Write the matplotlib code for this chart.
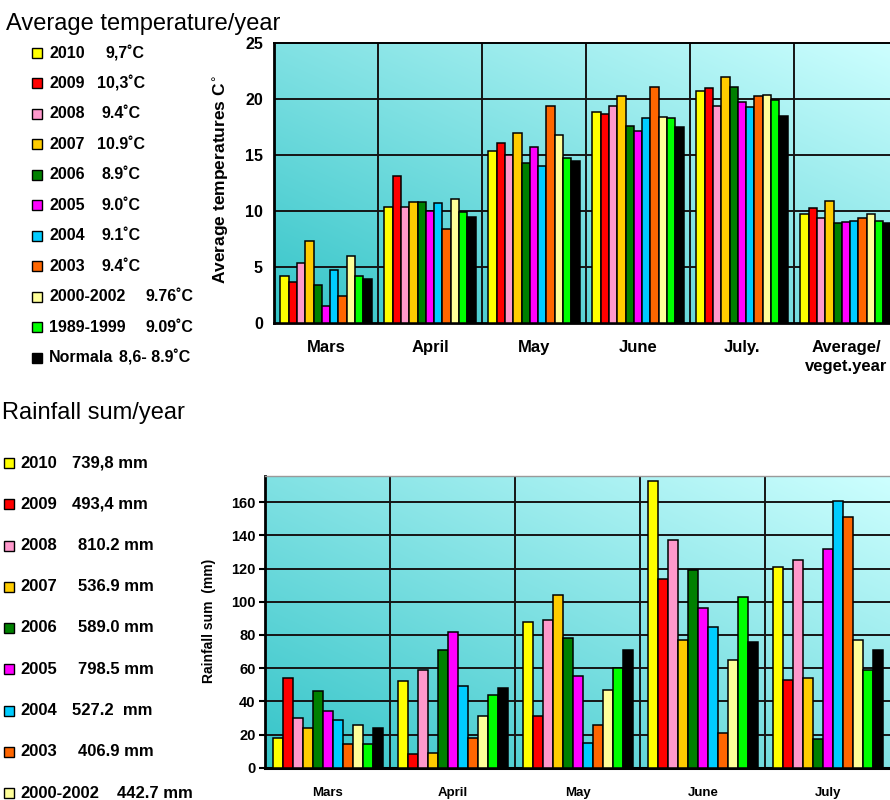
import numpy as np
import matplotlib
matplotlib.use("Agg")
import matplotlib.pyplot as plt
from matplotlib.patches import Rectangle

plt.rcParams['font.family'] = ['Liberation Sans', 'DejaVu Sans']

W, H = 890, 800

# ---------------- data ----------------
series_colors = ["#FFFF00", "#FF0000", "#FF99CC", "#FFCC00", "#008000", "#FF00FF",
                 "#00CCFF", "#FF6600", "#FFFF99", "#00FF00", "#000000"]

temp_categories = ["Mars", "April", "May", "June", "July.", "Average/\nveget.year"]
temp_2010 = [4.2, 10.4, 15.4, 18.8, 20.7, 9.7]
temp_2009 = [3.7, 13.1, 16.1, 18.7, 21.0, 10.3]
temp_2008 = [5.4, 10.4, 15.0, 19.4, 19.4, 9.4]
temp_2007 = [7.3, 10.8, 17.0, 20.3, 22.0, 10.9]
temp_2006 = [3.4, 10.8, 14.3, 17.6, 21.1, 8.9]
temp_2005 = [1.5, 10.0, 15.7, 17.1, 19.7, 9.0]
temp_2004 = [4.7, 10.7, 14.0, 18.3, 19.3, 9.1]
temp_2003 = [2.4, 8.4, 19.4, 21.1, 20.3, 9.4]
temp_2000_2002 = [6.0, 11.1, 16.8, 18.4, 20.4, 9.76]
temp_1989_1999 = [4.2, 9.9, 14.7, 18.3, 19.9, 9.09]
temp_normal = [3.9, 9.5, 14.5, 17.5, 18.5, 8.9]
temp_series = [temp_2010, temp_2009, temp_2008, temp_2007, temp_2006, temp_2005,
               temp_2004, temp_2003, temp_2000_2002, temp_1989_1999, temp_normal]
temp_ticks = [0, 5, 10, 15, 20, 25]

temp_legend_years = ["2010", "2009", "2008", "2007", "2006", "2005", "2004", "2003",
                     "2000-2002", "1989-1999", "Normala"]
temp_legend_means = ["9,7˚C", "10,3˚C", "9.4˚C", "10.9˚C", "8.9˚C", "9.0˚C", "9.1˚C",
                     "9.4˚C", "9.76˚C", "9.09˚C", "8,6- 8.9˚C"]

rain_categories = ["Mars", "April", "May", "June", "July"]
rain_2010 = [18, 52, 88, 173, 121]
rain_2009 = [54, 8, 31, 114, 53]
rain_2008 = [30, 59, 89, 137, 125]
rain_2007 = [24, 9, 104, 77, 54]
rain_2006 = [46, 71, 78, 119, 17]
rain_2005 = [34, 82, 55, 96, 132]
rain_2004 = [29, 49, 15, 85, 161]
rain_2003 = [14, 18, 26, 21, 151]
rain_2000_2002 = [26, 31, 47, 65, 77]
rain_1989_1999 = [14, 44, 60, 103, 59]
rain_normal = [24, 48, 71, 76, 71]
rain_series = [rain_2010, rain_2009, rain_2008, rain_2007, rain_2006, rain_2005,
               rain_2004, rain_2003, rain_2000_2002, rain_1989_1999, rain_normal]
rain_ticks = [0, 20, 40, 60, 80, 100, 120, 140, 160]

rain_legend_years = ["2010", "2009", "2008", "2007", "2006", "2005", "2004", "2003",
                     "2000-2002"]
rain_legend_sums = ["739,8 mm", "493,4 mm", "810.2 mm", "536.9 mm", "589.0 mm",
                    "798.5 mm", "527.2  mm", "406.9 mm", "442.7 mm"]

# ---------------- layout (pixels from top-left) ----------------
temp_mean_x = [106, 97, 102, 97, 102, 102, 102, 102, 146, 146, 119]
rain_sum_x = [72, 72, 78, 78, 78, 78, 72, 78, 117]

fig = plt.figure(figsize=(W / 100, H / 100), dpi=100)


def fx(px):
    return px / W


def fy(py):
    return 1 - py / H


def add_axes_px(left, top, right, bottom):
    return fig.add_axes([fx(left), fy(bottom), (right - left) / W, (bottom - top) / H])


def gradient_bg(ax):
    n = 256
    g = np.linspace(0, 1, n)
    X, Y = np.meshgrid(g, g)
    t = (X + Y) / 2
    c0 = np.array([52, 196, 200]) / 255
    c1 = np.array([206, 255, 255]) / 255
    img = c0 + (c1 - c0) * t[..., None]
    ax.imshow(img, extent=[0, 1, 0, 1], origin='lower', transform=ax.transAxes,
              aspect='auto', zorder=0, interpolation='bilinear')


def grouped_bars(ax, series, ncat, width):
    n = len(series)
    x = np.arange(ncat)
    for j, vals in enumerate(series):
        ax.bar(x + (j - (n - 1) / 2) * width, vals, width=width,
               color=series_colors[j], edgecolor='black', linewidth=1.1, zorder=3)


# ---------------- temperature chart ----------------
ax1 = add_axes_px(274, 43, 898, 323)
gradient_bg(ax1)
grouped_bars(ax1, temp_series, len(temp_categories), 0.08)
ax1.set_xlim(-0.5, len(temp_categories) - 0.5)
ax1.set_ylim(0, 25)
for v in temp_ticks[1:-1]:
    ax1.axhline(v, color='#151515', lw=1.4, zorder=1)
for b in np.arange(0.5, len(temp_categories) - 0.5):
    ax1.axvline(b, color='#151515', lw=1.4, zorder=1)
ax1.set_yticks(temp_ticks)
ax1.set_yticklabels([str(t) for t in temp_ticks], fontsize=11.5, fontweight='bold')
ax1.tick_params(axis='y', length=0, pad=8)
ax1.set_xticks(np.arange(len(temp_categories)))
ax1.set_xticklabels(temp_categories, fontsize=12, fontweight='bold', linespacing=1.35)
ax1.tick_params(axis='x', length=0, pad=12)
for s in ['left', 'bottom', 'top']:
    ax1.spines[s].set_color('black')
ax1.spines['left'].set_linewidth(2)
ax1.spines['bottom'].set_linewidth(2)
ax1.spines['top'].set_linewidth(1.4)
ax1.spines['right'].set_visible(False)
fig.text(fx(221), fy(180), "Average temperatures C$^{\\circ}$", rotation=90,
         ha='center', va='center', fontsize=12.5, fontweight='bold')

fig.text(fx(6), fy(30), "Average temperature/year", fontsize=17, ha='left',
         va='baseline')

for i, (yr, mean) in enumerate(zip(temp_legend_years, temp_legend_means)):
    yc = 53 + 30.45 * i
    fig.patches.append(Rectangle((fx(32), fy(yc + 5)), 10 / W, 10 / H,
                                 transform=fig.transFigure, facecolor=series_colors[i],
                                 edgecolor='black', lw=1.0))
    fig.text(fx(49), fy(yc), yr, fontsize=11.5, fontweight='bold', ha='left',
             va='center')
    fig.text(fx(temp_mean_x[i]), fy(yc), mean, fontsize=11.5, fontweight='bold',
             ha='left', va='center')

# ---------------- rainfall chart ----------------
ax2 = add_axes_px(265.3, 475.7, 890.3, 767.7)
gradient_bg(ax2)
grouped_bars(ax2, rain_series, len(rain_categories), 0.08)
ax2.set_xlim(-0.5, len(rain_categories) - 0.5)
ax2.set_ylim(0, 176)
for v in rain_ticks[1:]:
    ax2.axhline(v, color='#151515', lw=1.4, zorder=1)
for b in np.arange(0.5, len(rain_categories) - 0.5):
    ax2.axvline(b, color='#151515', lw=1.4, zorder=1)
ax2.set_yticks(rain_ticks)
ax2.set_yticklabels([str(t) for t in rain_ticks], fontsize=10.5, fontweight='bold')
ax2.tick_params(axis='y', length=4, width=1.5, pad=3, direction='out')
ax2.set_xticks(np.arange(len(rain_categories)))
ax2.set_xticklabels(rain_categories, fontsize=9.5, fontweight='bold')
ax2.tick_params(axis='x', length=0, pad=14)
ax2.spines['left'].set_linewidth(2)
ax2.spines['bottom'].set_linewidth(2.2)
ax2.spines['top'].set_color('#9a9a9a')
ax2.spines['top'].set_linewidth(1)
ax2.spines['right'].set_visible(False)
fig.text(fx(209), fy(621), "Rainfall sum  (mm)", rotation=90, ha='center',
         va='center', fontsize=10, fontweight='bold')

fig.text(fx(2), fy(419), "Rainfall sum/year", fontsize=17, ha='left', va='baseline')

for i, (yr, total) in enumerate(zip(rain_legend_years, rain_legend_sums)):
    yc = 463 + 41.25 * i
    fig.patches.append(Rectangle((fx(4), fy(yc + 5)), 10 / W, 10 / H,
                                 transform=fig.transFigure, facecolor=series_colors[i],
                                 edgecolor='black', lw=1.0))
    fig.text(fx(20), fy(yc), yr, fontsize=12, fontweight='bold', ha='left', va='center')
    fig.text(fx(rain_sum_x[i]), fy(yc), total, fontsize=12, fontweight='bold',
             ha='left', va='center')

fig.savefig("out.png", dpi=100)
